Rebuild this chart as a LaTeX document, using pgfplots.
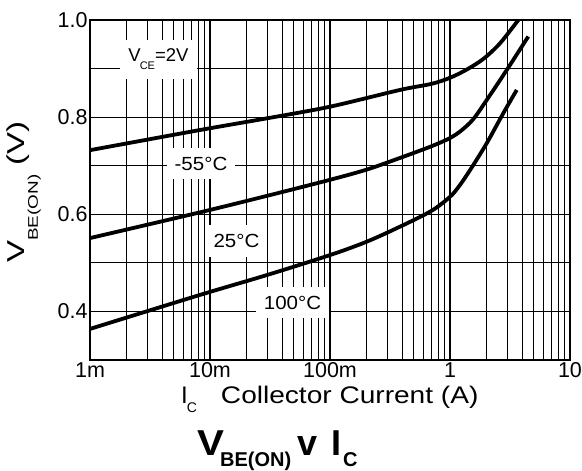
\documentclass[border=0pt]{standalone}
\usepackage{pgfplots}
\pgfplotsset{compat=1.18}
\usepackage{fontspec}
\setmainfont{Liberation Sans}
\newfontfamily\xlabfont[FakeStretch=1.17]{Liberation Sans}
\newfontfamily\ylabfont[FakeStretch=1.35]{Liberation Sans}
\newfontfamily\lblfont[FakeStretch=1.08]{Liberation Sans}
\newfontfamily\titVfont[FakeStretch=1.12]{Liberation Sans Bold}
\newcommand{\lsub}[2]{\raisebox{-#2}{#1}}
\begin{document}
\begin{tikzpicture}
\begin{axis}[
  at={(0,0)}, anchor=south west,
  scale only axis, width=480bp, height=340bp,
  xmode=log, xmin=0.001, xmax=10, ymin=0.3, ymax=1.0,
  log basis x=10,
  xtick={0.001,0.01,0.1,1,10},
  xticklabels={1m,10m,100m,1,10},
  minor xtick={0.002,0.003,0.004,0.005,0.006,0.007,0.008,0.009,
               0.02,0.03,0.04,0.05,0.06,0.07,0.08,0.09,
               0.2,0.3,0.4,0.5,0.6,0.7,0.8,0.9,
               2,3,4,5,6,7,8,9},
  ytick={0.4,0.6,0.8,1.0},
  yticklabels={0.4,0.6,0.8,1.0},
  minor ytick={0.3,0.5,0.7,0.9},
  grid=both,
  major grid style={black, line width=1.2bp},
  minor grid style={black, line width=1.2bp},
  major tick length=0pt, minor tick length=0pt,
  axis line style={black, line width=2bp},
  tick label style={font=\fontsize{21.5bp}{24bp}\selectfont},
  xticklabel style={yshift=1bp},
  yticklabel style={xshift=1bp},
  clip=true,
]
\addplot[black, line width=3.8bp, smooth] coordinates {
 (0.001,0.732) (0.00825,0.7735) (0.0299,0.7976) (0.1,0.8215) (0.383,0.856)
 (0.7,0.8685) (1,0.881) (1.38,0.898) (1.9,0.920) (2.61,0.952) (3.71,1.0) };
\addplot[black, line width=3.8bp, smooth] coordinates {
 (0.001,0.551) (0.00825,0.604) (0.0299,0.638) (0.1,0.671) (0.2024,0.692)
 (0.383,0.716) (0.7,0.740) (1,0.757) (1.25,0.773) (1.565,0.796) (2.02,0.835) (2.97,0.897) (4.49,0.966) };
\addplot[black, line width=3.8bp, smooth] coordinates {
 (0.001,0.364) (0.00825,0.434) (0.0299,0.475) (0.1,0.516) (0.2024,0.5436)
 (0.383,0.5745) (0.7,0.607) (1,0.636) (1.2,0.659) (1.47,0.691) (2.02,0.746) (2.78,0.808) (3.6,0.856) };
\draw[black, line width=3bp] (rel axis cs:0,1) -- (rel axis cs:0,0) -- (rel axis cs:1,0);
\tikzset{lbl/.style={fill=white, inner xsep=8bp, inner ysep=9bp, font=\lblfont\fontsize{19bp}{22bp}\selectfont}}
\node[lbl, font=\fontsize{18.5bp}{22bp}\selectfont] at (axis cs:0.003722,0.9187)
  {V\hspace{-1bp}\lsub{\fontsize{11bp}{12bp}\selectfont CE}{8bp}=2V};
\node[lbl] at (axis cs:0.008414,0.7046) {-55°C};
\node[lbl] at (axis cs:0.01663,0.545) {25°C};
\node[lbl] at (axis cs:0.0487,0.4184) {100°C};
\end{axis}
% y label
\node[rotate=90, anchor=base west, inner sep=0pt, font=\ylabfont\fontsize{24.5bp}{28bp}\selectfont] at (-65bp,97bp)
  {V\lsub{\fontsize{14bp}{16bp}\selectfont BE(ON)}{13bp}\ (V)};
% x label
\node[anchor=base west, inner sep=0pt, font=\fontsize{24bp}{28bp}\selectfont] at (91bp,-43bp)
  {I\hspace{-1bp}\lsub{\fontsize{14bp}{16bp}\selectfont C}{9bp}\hspace{24bp}{\xlabfont Collector Current (A)}};
% title
\node[anchor=base west, inner sep=0pt, font=\bfseries\fontsize{36bp}{40bp}\selectfont] at (107bp,-95bp)
  {{\titVfont V}\hspace{-4bp}\lsub{\fontsize{20bp}{24bp}\selectfont BE(ON)}{11bp}\hspace{6bp}v\hspace{14bp}I\hspace{2bp}\lsub{\fontsize{20bp}{24bp}\selectfont C}{11bp}};
\pgfresetboundingbox
\path (-90bp,-111bp) rectangle (492bp,360bp);
\end{tikzpicture}
\end{document}
